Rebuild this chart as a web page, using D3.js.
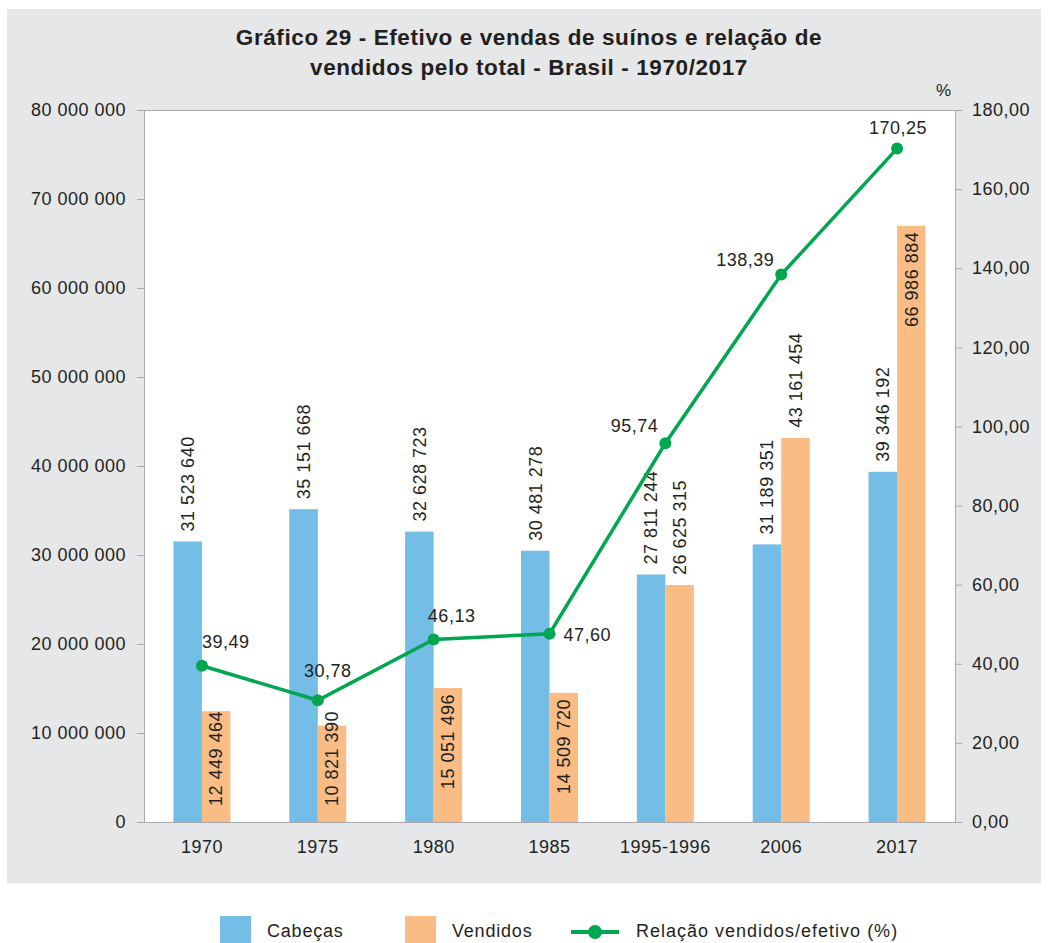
<!DOCTYPE html>
<html>
<head>
<meta charset="utf-8">
<script src="https://cdn.jsdelivr.net/npm/d3@7"></script>
<style>
  body { margin: 0; background: #fff; }
  text { font-family: "Liberation Sans", Arial, sans-serif; fill: #231f20; }
</style>
</head>
<body>
<div id="chart"></div>
<script>
// data
const categories = ["1970", "1975", "1980", "1985", "1995-1996", "2006", "2017"];
const cabecas = [31523640, 35151668, 32628723, 30481278, 27811244, 31189351, 39346192];
const vendidos = [12449464, 10821390, 15051496, 14509720, 26625315, 43161454, 66986884];
const relacao = [39.49, 30.78, 46.13, 47.60, 95.74, 138.39, 170.25];
const leftTicks = [0, 10e6, 20e6, 30e6, 40e6, 50e6, 60e6, 70e6, 80e6];
const rightTicks = [0, 20, 40, 60, 80, 100, 120, 140, 160, 180];

const colors = {cab: "#74bde7", vend: "#f9bc85", line: "#00a650", panel: "#e6e7e8", axis: "#a7a9ac"};

// which sold-bar labels sit inside the bar top, and where each % label sits
const vendInside = ["1970", "1975", "1980", "1985", "2017"];
const lineLabelPos = {
    "1970": {anchor: "start", dx: 0, dy: -18},
    "1975": {anchor: "middle", dx: 10, dy: -23},
    "1980": {anchor: "middle", dx: 18, dy: -18},
    "1985": {anchor: "start", dx: 14, dy: 7},
    "1995-1996": {anchor: "end", dx: -7, dy: -11},
    "2006": {anchor: "end", dx: -7, dy: -9},
    "2017": {anchor: "middle", dx: 1, dy: -15}
};

const W = 1048, H = 943;
const margin = {top: 110, right: 93, bottom: 121, left: 144};
const plotW = W - margin.left - margin.right;
const plotH = H - margin.top - margin.bottom;

const locale = d3.formatLocale({decimal: ",", thousands: " ", grouping: [3], currency: ["", ""]});
const fmtInt = locale.format(",d");
const fmtPct = locale.format(",.2f");

const rows = categories.map((c, i) => ({cat: c, cab: cabecas[i], vend: vendidos[i], rel: relacao[i]}));

const svg = d3.select("#chart").append("svg")
    .attr("width", W)
    .attr("height", H);

svg.append("rect")
    .attr("x", 7).attr("y", 9)
    .attr("width", 1034).attr("height", 874)
    .attr("fill", colors.panel);

const titleLines = ["Gráfico 29 - Efetivo e vendas de suínos e relação de",
                    "vendidos pelo total - Brasil - 1970/2017"];
svg.selectAll(".title")
    .data(titleLines)
    .join("text")
    .attr("class", "title")
    .attr("x", 529)
    .attr("y", (d, i) => 45 + i * 30)
    .attr("text-anchor", "middle")
    .style("font-size", "22.5px")
    .style("font-weight", "bold")
    .style("letter-spacing", "0.6px")
    .text(d => d);

const g = svg.append("g")
    .attr("transform", `translate(${margin.left}, ${margin.top})`);

g.append("rect")
    .attr("width", plotW).attr("height", plotH)
    .attr("fill", "#fff");
g.append("line")
    .attr("x1", 0).attr("x2", plotW)
    .attr("y1", 0.5).attr("y2", 0.5)
    .attr("stroke", colors.axis);

const x = d3.scaleBand()
    .domain(categories)
    .range([0, plotW]);
const barW = x.bandwidth() * 0.246;
const cx = d => x(d) + x.bandwidth() / 2;

const yLeft = d3.scaleLinear().domain([0, 80e6]).range([plotH, 0]);
const yRight = d3.scaleLinear().domain([0, 180]).range([plotH, 0]);

// axes
const styleAxis = sel => {
    sel.select(".domain").attr("stroke", colors.axis);
    sel.selectAll(".tick line").attr("stroke", colors.axis);
    sel.selectAll(".tick text")
        .style("font-size", "18px")
        .style("letter-spacing", "0.5px")
        .attr("fill", "#231f20");
    sel.attr("font-family", null).attr("font-size", null);
};

g.append("g")
    .call(d3.axisLeft(yLeft).tickValues(leftTicks).tickFormat(fmtInt).tickSizeOuter(0).tickSize(7).tickPadding(11))
    .call(styleAxis);

g.append("g")
    .attr("transform", `translate(${plotW}, 0)`)
    .call(d3.axisRight(yRight).tickValues(rightTicks).tickFormat(fmtPct).tickSizeOuter(0).tickSize(7).tickPadding(10))
    .call(styleAxis);

g.append("g")
    .attr("transform", `translate(0, ${plotH})`)
    .call(d3.axisBottom(x).tickSize(0).tickPadding(18))
    .call(styleAxis);

svg.append("text")
    .attr("x", 951).attr("y", 96)
    .attr("text-anchor", "end")
    .style("font-size", "17px")
    .text("%");

// bars
g.selectAll(".bar-cab")
    .data(rows)
    .join("rect")
    .attr("class", "bar-cab")
    .attr("x", d => cx(d.cat) - barW)
    .attr("y", d => yLeft(d.cab))
    .attr("width", barW)
    .attr("height", d => plotH - yLeft(d.cab))
    .attr("fill", colors.cab);

g.selectAll(".bar-vend")
    .data(rows)
    .join("rect")
    .attr("class", "bar-vend")
    .attr("x", d => cx(d.cat))
    .attr("y", d => yLeft(d.vend))
    .attr("width", barW)
    .attr("height", d => plotH - yLeft(d.vend))
    .attr("fill", colors.vend);

// bar labels, rotated
g.selectAll(".lab-cab")
    .data(rows)
    .join("text")
    .attr("class", "lab-cab")
    .attr("transform", d => `translate(${cx(d.cat) - barW / 2}, ${yLeft(d.cab) - 10}) rotate(-90)`)
    .attr("dy", "0.35em")
    .style("font-size", "18px")
    .style("letter-spacing", "0.5px")
    .text(d => fmtInt(d.cab));

g.selectAll(".lab-vend")
    .data(rows)
    .join("text")
    .attr("class", "lab-vend")
    .attr("dy", "0.35em")
    .attr("text-anchor", d => vendInside.includes(d.cat) ? "end" : "start")
    .style("font-size", "18px")
    .style("letter-spacing", "0.5px")
    .text(d => fmtInt(d.vend))
    .attr("transform", function(d) {
        let yy;
        if (vendInside.includes(d.cat)) {
            // keep the label off the axis when the bar is too short for it
            const len = this.getComputedTextLength();
            yy = Math.min(yLeft(d.vend) + 6, plotH - 16 - len);
        } else {
            yy = yLeft(d.vend) - 10;
        }
        return `translate(${cx(d.cat) + barW / 2}, ${yy}) rotate(-90)`;
    });

// ratio line
const line = d3.line()
    .x(d => cx(d.cat))
    .y(d => yRight(d.rel));

g.append("path")
    .datum(rows)
    .attr("d", line)
    .attr("fill", "none")
    .attr("stroke", colors.line)
    .attr("stroke-width", 3.5);

g.selectAll(".dot")
    .data(rows)
    .join("circle")
    .attr("class", "dot")
    .attr("cx", d => cx(d.cat))
    .attr("cy", d => yRight(d.rel))
    .attr("r", 6)
    .attr("fill", colors.line);

g.selectAll(".lab-rel")
    .data(rows)
    .join("text")
    .attr("class", "lab-rel")
    .attr("x", d => cx(d.cat) + lineLabelPos[d.cat].dx)
    .attr("y", d => yRight(d.rel) + lineLabelPos[d.cat].dy)
    .attr("text-anchor", d => lineLabelPos[d.cat].anchor)
    .style("font-size", "18px")
    .style("letter-spacing", "0.5px")
    .text(d => fmtPct(d.rel));

// legend
const legend = svg.append("g").attr("class", "legend");
const legendItems = [
    {label: "Cabeças", type: "box", color: colors.cab, x: 220},
    {label: "Vendidos", type: "box", color: colors.vend, x: 405},
    {label: "Relação vendidos/efetivo (%)", type: "line", color: colors.line, x: 571}
];
legendItems.forEach(item => {
    if (item.type === "box") {
        legend.append("rect")
            .attr("x", item.x).attr("y", 916)
            .attr("width", 31).attr("height", 31)
            .attr("fill", item.color);
        legend.append("text")
            .attr("x", item.x + 47).attr("y", 937)
            .style("font-size", "18px")
            .style("letter-spacing", "0.8px")
            .text(item.label);
    } else {
        legend.append("line")
            .attr("x1", item.x).attr("x2", item.x + 48)
            .attr("y1", 932).attr("y2", 932)
            .attr("stroke", item.color)
            .attr("stroke-width", 4);
        legend.append("circle")
            .attr("cx", item.x + 24).attr("cy", 932)
            .attr("r", 7)
            .attr("fill", item.color);
        legend.append("text")
            .attr("x", item.x + 65).attr("y", 937)
            .style("font-size", "18px")
            .style("letter-spacing", "1px")
            .text(item.label);
    }
});
</script>
</body>
</html>
